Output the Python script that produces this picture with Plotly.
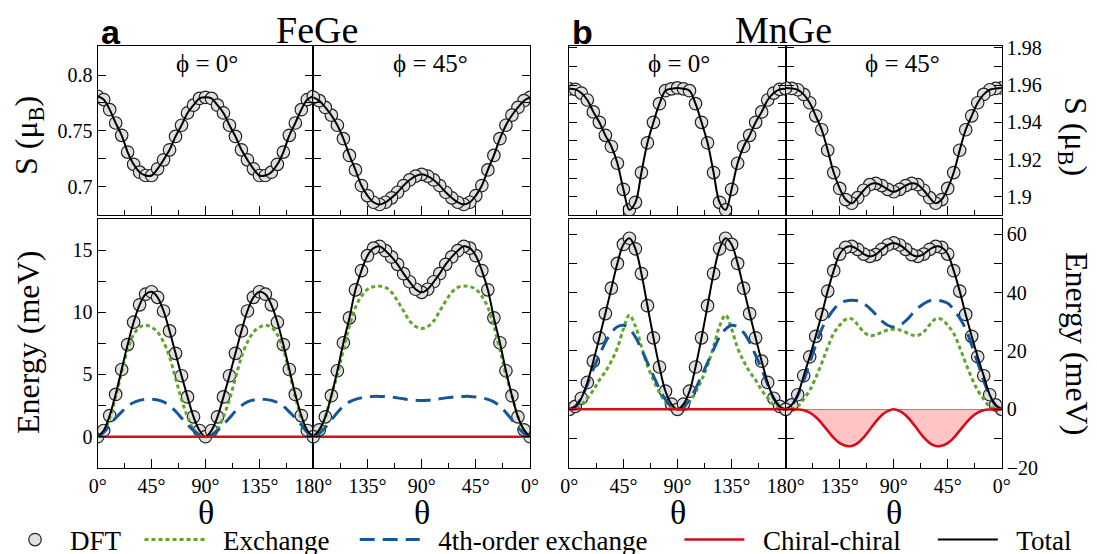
import plotly.graph_objects as go

W, H = 1097, 554
FONT = "Liberation Serif"

theta = [0, 5, 10, 15, 20, 25, 30, 35, 40, 45, 50, 55, 60, 65, 70, 75, 80, 85, 90,
         95, 100, 105, 110, 115, 120, 125, 130, 135, 140, 145, 150, 155, 160, 165, 170, 175, 180]

# ---- magnetic moment S (mu_B) ----
s_fege_phi0 = [0.781, 0.778, 0.769, 0.757, 0.746, 0.731, 0.720, 0.713, 0.710, 0.710, 0.716, 0.724, 0.733, 0.745, 0.755, 0.766, 0.773, 0.779, 0.780,
               0.779, 0.773, 0.766, 0.755, 0.745, 0.733, 0.724, 0.716, 0.710, 0.710, 0.713, 0.720, 0.731, 0.746, 0.757, 0.769, 0.778, 0.781]
s_fege_phi45 = [0.780, 0.777, 0.771, 0.764, 0.755, 0.743, 0.728, 0.715, 0.701, 0.692, 0.686, 0.684, 0.686, 0.690, 0.695, 0.701, 0.706, 0.7095, 0.711,
                0.7095, 0.706, 0.701, 0.695, 0.690, 0.686, 0.684, 0.686, 0.692, 0.701, 0.715, 0.728, 0.743, 0.755, 0.764, 0.771, 0.777, 0.780]
s_mnge_phi0 = [1.958, 1.9577, 1.9557, 1.952, 1.9456, 1.940, 1.933, 1.927, 1.918, 1.904, 1.893, 1.897, 1.913, 1.929, 1.940, 1.950, 1.957, 1.958, 1.9585,
               1.958, 1.957, 1.950, 1.940, 1.929, 1.913, 1.897, 1.893, 1.904, 1.918, 1.927, 1.933, 1.940, 1.9456, 1.952, 1.9557, 1.9577, 1.958]
s_mnge_phi45 = [1.9585, 1.9582, 1.9575, 1.955, 1.9505, 1.9435, 1.936, 1.925, 1.913, 1.9045, 1.8985, 1.8965, 1.8995, 1.9035, 1.9065, 1.9072, 1.906, 1.904, 1.9027,
                1.904, 1.906, 1.9072, 1.9065, 1.9035, 1.8995, 1.8965, 1.8985, 1.9045, 1.913, 1.925, 1.936, 1.9435, 1.9505, 1.955, 1.9575, 1.9582, 1.9585]

# ---- energies (meV) ----
e_fege_phi0_total = [0, 0.5, 1.7, 3.4, 5.4, 7.4, 9.2, 10.6, 11.45, 11.65, 11.2, 10.1, 8.5, 6.7, 4.9, 3.2, 1.6, 0.5, 0,
                     0.5, 1.6, 3.2, 4.9, 6.7, 8.5, 10.1, 11.2, 11.65, 11.45, 10.6, 9.2, 7.4, 5.4, 3.4, 1.7, 0.5, 0]
e_fege_phi0_exch = [0, 0.4, 1.5, 3.2, 5.2, 7.0, 8.2, 8.8, 8.95, 8.8, 8.4, 7.6, 6.4, 4.7, 3.0, 1.6, 0.6, 0.1, 0,
                    0.1, 0.6, 1.6, 3.0, 4.7, 6.4, 7.6, 8.4, 8.8, 8.95, 8.8, 8.2, 7.0, 5.2, 3.2, 1.5, 0.4, 0]
e_fege_phi0_4th = [0, 0.35, 0.95, 1.5, 2.0, 2.45, 2.75, 2.92, 3.0, 3.02, 2.95, 2.8, 2.5, 2.05, 1.5, 0.98, 0.5, 0.15, 0,
                   0.15, 0.5, 0.98, 1.5, 2.05, 2.5, 2.8, 2.95, 3.02, 3.0, 2.92, 2.75, 2.45, 2.0, 1.5, 0.95, 0.35, 0]
e_fege_phi0_chiral = [0, 0, 0, 0, 0, 0, 0, 0, 0, 0, 0, 0, 0, 0, 0, 0, 0, 0, 0,
                      0, 0, 0, 0, 0, 0, 0, 0, 0, 0, 0, 0, 0, 0, 0, 0, 0, 0]

e_fege_phi45_total = [0, 0.55, 1.6, 3.3, 5.3, 7.55, 9.55, 11.8, 13.35, 14.55, 15.15, 15.3, 14.95, 14.45, 13.85, 13.1, 12.45, 11.85, 11.6,
                      11.85, 12.45, 13.1, 13.85, 14.45, 14.95, 15.3, 15.15, 14.55, 13.35, 11.8, 9.55, 7.55, 5.3, 3.3, 1.6, 0.55, 0]
e_fege_phi45_exch = [0, 0.5, 1.6, 3.3, 5.0, 7.0, 8.9, 10.4, 11.3, 11.85, 12.05, 12.1, 12.0, 11.6, 10.9, 10.1, 9.3, 8.85, 8.7,
                     8.85, 9.3, 10.1, 10.9, 11.6, 12.0, 12.1, 12.05, 11.85, 11.3, 10.4, 8.9, 7.0, 5.0, 3.3, 1.6, 0.5, 0]
e_fege_phi45_4th = [0, 0.25, 0.75, 1.35, 1.95, 2.45, 2.8, 3.0, 3.12, 3.2, 3.24, 3.24, 3.22, 3.18, 3.12, 3.05, 2.97, 2.92, 2.9,
                    2.92, 2.97, 3.05, 3.12, 3.18, 3.22, 3.24, 3.24, 3.2, 3.12, 3.0, 2.8, 2.45, 1.95, 1.35, 0.75, 0.25, 0]
e_fege_phi45_chiral = [0, 0, 0, 0, 0, 0, 0, 0, 0, 0, 0, 0, 0, 0, 0, 0, 0, 0, 0,
                       0, 0, 0, 0, 0, 0, 0, 0, 0, 0, 0, 0, 0, 0, 0, 0, 0, 0]

e_mnge_phi0_total = [0, 1.0, 3.8, 9.2, 16.5, 24.5, 32.8, 41.5, 50.0, 56.5, 58.6, 55.0, 46.5, 35.5, 24.5, 14.5, 6.2, 1.8, 0,
                     1.8, 6.2, 14.5, 24.5, 35.5, 46.5, 55.0, 58.6, 56.5, 50.0, 41.5, 32.8, 24.5, 16.5, 9.2, 3.8, 1.0, 0]
e_mnge_phi0_exch = [0, 0.3, 1.5, 3.8, 6.6, 10.0, 12.9, 16.5, 21.0, 27.5, 32.3, 28.5, 21.5, 15.0, 10.0, 5.8, 2.5, 0.6, 0,
                    0.6, 2.5, 5.8, 10.0, 15.0, 21.5, 28.5, 32.3, 27.5, 21.0, 16.5, 12.9, 10.0, 6.6, 3.8, 1.5, 0.3, 0]
e_mnge_phi0_4th = [0, 1.0, 3.8, 8.5, 13.8, 18.5, 23.0, 26.3, 28.3, 28.8, 27.5, 24.8, 20.5, 16.0, 11.5, 7.0, 3.3, 0.9, 0,
                   0.9, 3.3, 7.0, 11.5, 16.0, 20.5, 24.8, 27.5, 28.8, 28.3, 26.3, 23.0, 18.5, 13.8, 8.5, 3.8, 1.0, 0]
e_mnge_phi0_chiral = [0, 0, 0, 0, 0, 0, 0, 0, 0, 0, 0, 0, 0, 0, 0, 0, 0, 0, 0,
                      0, 0, 0, 0, 0, 0, 0, 0, 0, 0, 0, 0, 0, 0, 0, 0, 0, 0]

e_mnge_phi45_total = [0, 1.5, 5.0, 11.5, 18.0, 25.0, 32.5, 40.5, 47.5, 53.2, 55.5, 55.8, 54.8, 53.2, 52.4, 53.0, 54.8, 56.3, 57.0,
                      56.3, 54.8, 53.0, 52.4, 53.2, 54.8, 55.8, 55.5, 53.2, 47.5, 40.5, 32.5, 25.0, 18.0, 11.5, 5.0, 1.5, 0]
e_mnge_phi45_exch = [0, 0.2, 1.0, 3.5, 6.5, 10.8, 15.8, 21.2, 26.0, 28.8, 30.8, 31.0, 29.0, 26.5, 25.3, 25.5, 26.4, 27.2, 27.4,
                     27.2, 26.4, 25.5, 25.3, 26.5, 29.0, 31.0, 30.8, 28.8, 26.0, 21.2, 15.8, 10.8, 6.5, 3.5, 1.0, 0.2, 0]
e_mnge_phi45_4th = [0, 1.3, 4.8, 9.8, 16.0, 22.0, 27.5, 31.3, 34.2, 36.3, 37.1, 37.4, 37.2, 36.2, 34.6, 32.5, 30.3, 28.8, 28.2,
                    28.8, 30.3, 32.5, 34.6, 36.2, 37.2, 37.4, 37.1, 36.3, 34.2, 31.3, 27.5, 22.0, 16.0, 9.8, 4.8, 1.3, 0]
e_mnge_phi45_chiral = [0, 0, -0.05, -0.3, -1.1, -2.6, -4.8, -7.3, -9.8, -11.6, -12.5, -12.6, -11.6, -9.6, -7.0, -4.3, -2.0, -0.6, 0,
                       -0.6, -2.0, -4.3, -7.0, -9.6, -11.6, -12.6, -12.5, -11.6, -9.8, -7.3, -4.8, -2.6, -1.1, -0.3, -0.05, 0, 0]

# ---- tick labels ----
x_ticks_left = [0, 45, 90, 135, 180]
x_text_left = ["0°", "45°", "90°", "135°", "180°"]
x_ticks_right = [0, 45, 90, 135]
x_text_right = ["0°", "45°", "90°", "135°"]
x_minor = [22.5, 67.5, 112.5, 157.5]

fege_s_ticks = [0.7, 0.75, 0.8]
fege_s_text = ["0.7", "0.75", "0.8"]
fege_s_minor = [0.725, 0.775]
fege_e_ticks = [0, 5, 10, 15]
fege_e_text = ["0", "5", "10", "15"]
fege_e_minor = [2.5, 7.5, 12.5]
mnge_s_ticks = [1.9, 1.92, 1.94, 1.96, 1.98]
mnge_s_text = ["1.9", "1.92", "1.94", "1.96", "1.98"]
mnge_s_minor = [1.91, 1.93, 1.95, 1.97]
mnge_e_ticks = [-20, 0, 20, 40, 60]
mnge_e_text = ["\u221220", "0", "20", "40", "60"]
mnge_e_minor = [-10, 10, 30, 50]

legend_names = ["DFT", "Exchange", "4th-order exchange", "Chiral-chiral", "Total"]

# ---- colours ----
C_EXCH = "#5fa52a"
C_4TH = "#14589a"
C_CHIR = "#d0101a"
C_FILL = "rgba(255,190,190,0.9)"

fig = go.Figure()


def xdom(a, b):
    return [a / W, b / W]


def ydom(top, bot):
    return [1 - bot / H, 1 - top / H]


COLS = [xdom(97.7, 313.3), xdom(313.3, 530.0), xdom(569.3, 785.7), xdom(785.7, 1001.7)]
ROW_TOP = ydom(46.0, 215.0)
ROW_BOT = ydom(219.3, 467.7)

tickfont = dict(family=FONT, size=20, color="black")
LW = 1.3


def xaxis(dom, reverse, anchor, labels):
    return dict(domain=dom, range=[180, 0] if reverse else [0, 180], anchor=anchor,
                showline=True, linecolor="black", linewidth=LW, mirror=True,
                ticks="inside", ticklen=9, tickwidth=1.2, tickcolor="black",
                tickmode="array",
                tickvals=(x_ticks_right if reverse else x_ticks_left),
                ticktext=(x_text_right if reverse else x_text_left),
                showticklabels=labels, tickfont=tickfont,
                minor=dict(tickmode="array", tickvals=x_minor, ticks="inside", ticklen=5,
                           tickwidth=1.2, tickcolor="black"),
                showgrid=False, zeroline=False, fixedrange=True)


def yaxis(dom, rng, anchor, tv, tt, mv, labels, side="left", zero=False):
    return dict(domain=dom, range=rng, anchor=anchor, side=side,
                showline=True, linecolor="black", linewidth=LW, mirror="ticks",
                ticks="inside", ticklen=8, tickwidth=1.2, tickcolor="black",
                tickmode="array", tickvals=tv, ticktext=tt, showticklabels=labels,
                minor=dict(tickmode="array", tickvals=mv, ticks="inside", ticklen=8,
                           tickwidth=1.2, tickcolor="black"),
                tickfont=tickfont, showgrid=False,
                zeroline=zero, zerolinecolor="black", zerolinewidth=1.2, fixedrange=True)


FEGE_S_RANGE = [0.6746, 0.8260]
FEGE_E_RANGE = [-2.49, 17.47]
MNGE_S_RANGE = [1.8902, 1.9810]
MNGE_E_RANGE = [-20, 65.1]

layout_axes = {}
for i in range(4):
    rev = i in (1, 3)
    layout_axes["xaxis%d" % (i + 1)] = xaxis(COLS[i], rev, "y%d" % (i + 1), False)
    layout_axes["xaxis%d" % (i + 5)] = xaxis(COLS[i], rev, "y%d" % (i + 5), True)

layout_axes["yaxis1"] = yaxis(ROW_TOP, FEGE_S_RANGE, "x1", fege_s_ticks, fege_s_text, fege_s_minor, True)
layout_axes["yaxis2"] = yaxis(ROW_TOP, FEGE_S_RANGE, "x2", fege_s_ticks, fege_s_text, fege_s_minor, False)
layout_axes["yaxis3"] = yaxis(ROW_TOP, MNGE_S_RANGE, "x3", mnge_s_ticks, mnge_s_text, mnge_s_minor, False)
layout_axes["yaxis4"] = yaxis(ROW_TOP, MNGE_S_RANGE, "x4", mnge_s_ticks, mnge_s_text, mnge_s_minor, True, side="right")
layout_axes["yaxis5"] = yaxis(ROW_BOT, FEGE_E_RANGE, "x5", fege_e_ticks, fege_e_text, fege_e_minor, True)
layout_axes["yaxis6"] = yaxis(ROW_BOT, FEGE_E_RANGE, "x6", fege_e_ticks, fege_e_text, fege_e_minor, False)
layout_axes["yaxis7"] = yaxis(ROW_BOT, MNGE_E_RANGE, "x7", mnge_e_ticks, mnge_e_text, mnge_e_minor, False, zero=True)
layout_axes["yaxis8"] = yaxis(ROW_BOT, MNGE_E_RANGE, "x8", mnge_e_ticks, mnge_e_text, mnge_e_minor, True, side="right", zero=True)

MARKER = dict(symbol="circle", size=12.5, color="#e0e0e0", line=dict(color="#222222", width=1.2))

s_panels = [(1, s_fege_phi0), (2, s_fege_phi45), (3, s_mnge_phi0), (4, s_mnge_phi45)]
for n, s in s_panels:
    fig.add_trace(go.Scatter(x=theta, y=s, mode="markers", marker=MARKER, showlegend=False,
                             xaxis="x%d" % n, yaxis="y%d" % n, hoverinfo="skip"))
    fig.add_trace(go.Scatter(x=theta, y=s, mode="lines", line=dict(color="black", width=2, shape="spline", smoothing=1.0),
                             showlegend=False, xaxis="x%d" % n, yaxis="y%d" % n, hoverinfo="skip"))

NB = "\u00a0"
leg_labels = [
    legend_names[0] + NB * 2,
    NB * 2 + legend_names[1] + NB * 3,
    NB * 2 + legend_names[2] + NB * 4,
    NB * 2 + legend_names[3] + NB * 4,
    NB * 2 + legend_names[4],
]

e_panels = [
    (5, e_fege_phi0_total, e_fege_phi0_exch, e_fege_phi0_4th, e_fege_phi0_chiral, False),
    (6, e_fege_phi45_total, e_fege_phi45_exch, e_fege_phi45_4th, e_fege_phi45_chiral, False),
    (7, e_mnge_phi0_total, e_mnge_phi0_exch, e_mnge_phi0_4th, e_mnge_phi0_chiral, False),
    (8, e_mnge_phi45_total, e_mnge_phi45_exch, e_mnge_phi45_4th, e_mnge_phi45_chiral, True),
]
for n, tot, exch, fourth, chir, fill in e_panels:
    leg = (n == 5)
    xa, ya = "x%d" % n, "y%d" % n
    fig.add_trace(go.Scatter(x=theta, y=tot, mode="markers", marker=MARKER, name=leg_labels[0],
                             showlegend=leg, legendrank=1, xaxis=xa, yaxis=ya, hoverinfo="skip"))
    fig.add_trace(go.Scatter(x=theta, y=exch, mode="lines", name=leg_labels[1],
                             line=dict(color=C_EXCH, width=3, dash="4px,3px", shape="spline", smoothing=1.0),
                             showlegend=leg, legendrank=2, xaxis=xa, yaxis=ya, hoverinfo="skip"))
    fig.add_trace(go.Scatter(x=theta, y=fourth, mode="lines", name=leg_labels[2],
                             line=dict(color=C_4TH, width=3, dash="15px,8px", shape="spline", smoothing=1.0),
                             showlegend=leg, legendrank=3, xaxis=xa, yaxis=ya, hoverinfo="skip"))
    fig.add_trace(go.Scatter(x=theta, y=tot, mode="lines", name=leg_labels[4],
                             line=dict(color="black", width=2, shape="spline", smoothing=1.0),
                             showlegend=leg, legendrank=5, xaxis=xa, yaxis=ya, hoverinfo="skip"))
    fig.add_trace(go.Scatter(x=theta, y=chir, mode="lines", name=leg_labels[3],
                             line=dict(color=C_CHIR, width=2.6, shape="spline", smoothing=1.0),
                             fill="tozeroy" if fill else None, fillcolor=C_FILL,
                             showlegend=leg, legendrank=4, xaxis=xa, yaxis=ya, hoverinfo="skip"))


def py(y):
    return 1 - y / H


def ann(text, xp, yp, size, family=FONT, angle=0):
    return dict(text=text, x=xp / W, y=py(yp), xref="paper", yref="paper",
                xanchor="center", yanchor="middle", textangle=angle, showarrow=False,
                font=dict(family=family, size=size, color="black"))


annotations = [
    ann("<b>a</b>", 111, 32, 34, family="Liberation Sans"),
    ann("FeGe", 317, 30, 38),
    ann("<b>b</b>", 582, 32, 34, family="Liberation Sans"),
    ann("MnGe", 783, 30, 38),
]
for xc, t in [(207, "\u03d5 = 0°"), (430, "\u03d5 = 45°"), (679, "\u03d5 = 0°"), (902, "\u03d5 = 45°")]:
    annotations.append(ann(t, xc, 64, 25))
for xc in [205.5, 421.7, 677.5, 893.7]:
    annotations.append(ann("\u03b8", xc, 512, 34))
annotations.append(ann("S (\u03bc<sub>B</sub>)", 29, 136, 32, angle=-90))
annotations.append(ann("Energy (meV)", 28, 343, 32, angle=-90))
annotations.append(ann("S (\u03bc<sub>B</sub>)", 1073, 136, 32, angle=90))
annotations.append(ann("Energy (meV)", 1077, 343, 32, angle=90))

fig.update_layout(
    width=W, height=H, autosize=False,
    margin=dict(l=0, r=0, t=0, b=0, pad=0, autoexpand=False),
    paper_bgcolor="white", plot_bgcolor="white",
    annotations=annotations,
    legend=dict(orientation="h", x=0, y=py(540), xanchor="left", yanchor="middle",
                font=dict(family=FONT, size=27, color="black"), itemwidth=60,
                bgcolor="rgba(0,0,0,0)", traceorder="normal"),
    **layout_axes,
)

fig.write_html("out.html", config={"displayModeBar": False},
               post_script="document.body.style.margin='0px';document.documentElement.style.overflow='hidden';")
